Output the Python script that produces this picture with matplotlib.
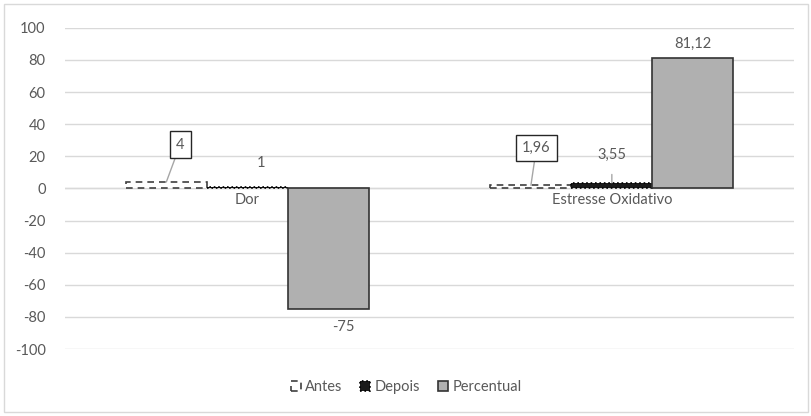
import matplotlib.pyplot as plt
import numpy as np
from matplotlib.patches import Rectangle

plt.rcParams['font.family'] = ['Lato', 'DejaVu Sans']

categorias = ["Dor", "Estresse Oxidativo"]
series = ["Antes", "Depois", "Percentual"]
antes = [4, 1.96]
depois = [1, 3.55]
percentual = [-75, 81.12]
rotulos = {
    "Antes": ["4", "1,96"],
    "Depois": ["1", "3,55"],
    "Percentual": ["-75", "81,12"],
}
yticks = list(range(-100, 101, 20))

txt = '#595959'
grid = '#D9D9D9'
fs = 10.5

fig = plt.figure(figsize=(8.12, 4.16), dpi=100)
fig.patches.append(Rectangle((0.005, 0.01), 0.99, 0.98, transform=fig.transFigure,
                             fill=False, edgecolor='#D9D9D9', linewidth=1))
ax = fig.add_axes([0.080, 0.161, 0.898, 0.772])

x = np.arange(len(categorias))
w = 0.222

b1 = ax.bar(x - w, antes, w, facecolor='white', edgecolor='#404040',
            linestyle=(0, (4, 3)), linewidth=1.2, label="Antes", zorder=3)
b2 = ax.bar(x, depois, w, facecolor='#1a1a1a', edgecolor='#000000',
            linestyle=':', linewidth=1.2, label="Depois", zorder=3)
b3 = ax.bar(x + w, percentual, w, facecolor='#B0B0B0', edgecolor='#333333',
            linewidth=1.2, label="Percentual", zorder=3)

ax.set_ylim(-100, 100)
ax.set_xlim(-0.5, 1.5)
ax.set_yticks(yticks)
ax.set_yticklabels([str(v) for v in yticks])
ax.tick_params(axis='y', length=0, labelsize=fs, labelcolor=txt, pad=14)
ax.set_xticks([])
ax.yaxis.grid(True, color=grid, linewidth=1, zorder=0)
ax.axhline(0, color=grid, linewidth=1, zorder=1)
for s in ax.spines.values():
    s.set_visible(False)

for i, c in enumerate(categorias):
    ax.annotate(c, (x[i], 0), xytext=(0, -3), textcoords='offset points',
                ha='center', va='top', fontsize=fs, color=txt)

lbl = dict(fontsize=fs, color=txt, ha='center', va='center')
box = dict(boxstyle='square,pad=0.42', facecolor='white', edgecolor='#262626', linewidth=1)
arrow = dict(arrowstyle='-', color='#A6A6A6', linewidth=1, shrinkA=0, shrinkB=0)

# Antes: rotulos em caixa com linha de chamada
ax.annotate(rotulos["Antes"][0], (x[0] - w, antes[0]), xytext=(10, 27),
            textcoords='offset points', bbox=box, arrowprops=arrow, **lbl)
ax.annotate(rotulos["Antes"][1], (x[1] - w, antes[1]), xytext=(4, 27),
            textcoords='offset points', bbox=box, arrowprops=arrow, **lbl)
# Depois
ax.annotate(rotulos["Depois"][0], (x[0], depois[0]), xytext=(10, 17),
            textcoords='offset points', **lbl)
ax.annotate(rotulos["Depois"][1], (x[1], depois[1]), xytext=(0, 20),
            textcoords='offset points', arrowprops=dict(arrow, shrinkA=7), **lbl)
# Percentual
ax.annotate(rotulos["Percentual"][0], (x[0] + w, percentual[0]), xytext=(11, -13),
            textcoords='offset points', **lbl)
ax.annotate(rotulos["Percentual"][1], (x[1] + w, percentual[1]), xytext=(0, 10),
            textcoords='offset points', **lbl)

fig.legend(handles=[b1, b2, b3], labels=series, loc='center', bbox_to_anchor=(0.5, 0.07),
           ncol=3, frameon=False, fontsize=fs, labelcolor=txt, handlelength=0.7,
           handleheight=0.7, handletextpad=0.3, columnspacing=1.2)

fig.savefig('out.png', dpi=100)
